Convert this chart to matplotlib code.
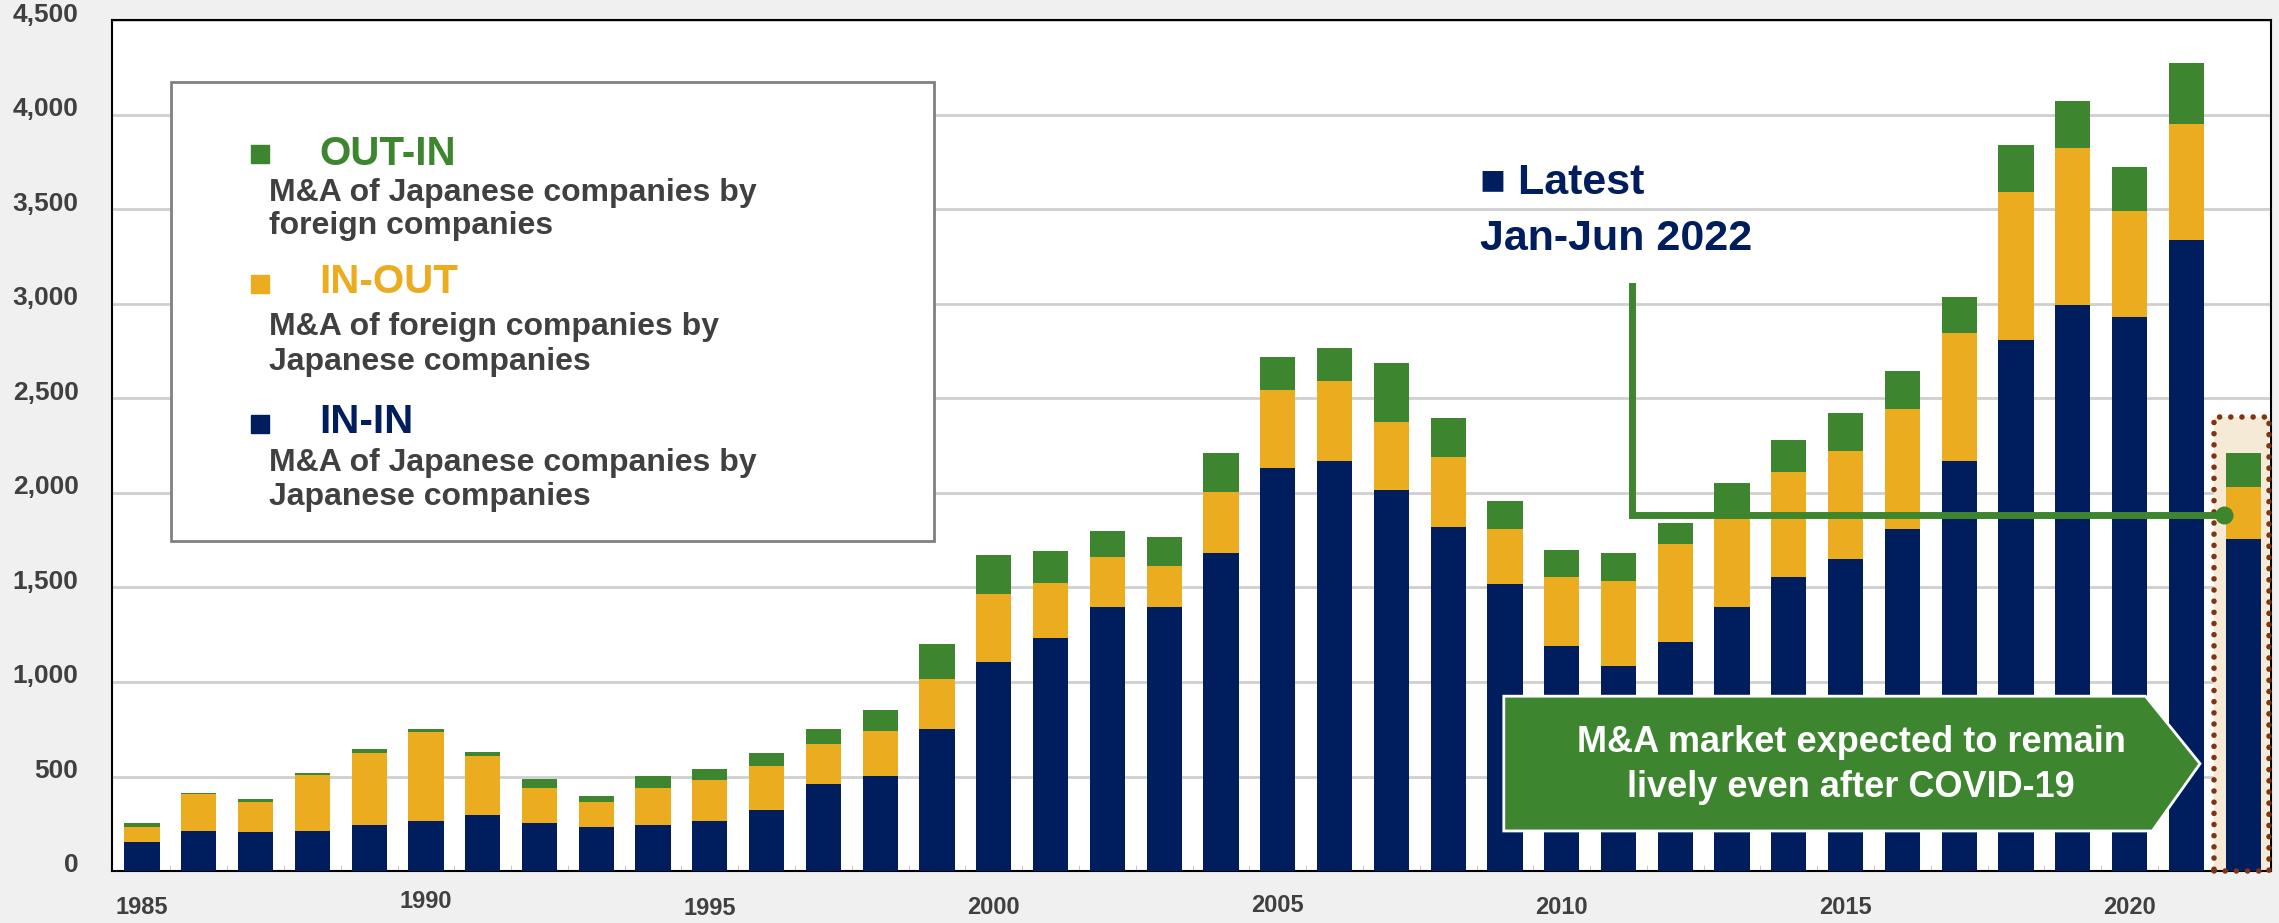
import matplotlib
matplotlib.use("Agg")
import matplotlib.pyplot as plt
import matplotlib.patches as mpatches
import matplotlib.transforms as mtransforms
import numpy as np

plt.rcParams['font.family'] = ['Liberation Sans', 'DejaVu Sans']
plt.rcParams['font.weight'] = 'bold'

# number of deals per year (1985 .. 2021, plus Jan-Jun 2022)
years = [str(y) for y in range(1985, 2022)] + ["2022H1"]
in_in = [156, 212, 205, 212, 243, 265, 299, 252, 233, 243, 265, 321, 458, 504, 753,
         1105, 1233, 1398, 1398, 1681, 2130, 2170, 2017, 1818, 1516, 1192, 1083, 1211,
         1398, 1554, 1650, 1809, 2170, 2808, 2992, 2933, 3337, 1756]
in_out = [77, 193, 159, 295, 383, 470, 308, 187, 131, 196, 214, 236, 214, 237, 265,
          361, 293, 265, 215, 324, 414, 420, 358, 374, 293, 362, 452, 520,
          482, 557, 570, 635, 676, 782, 834, 560, 614, 274]
out_in = [19, 9, 19, 10, 18, 18, 25, 50, 34, 65, 60, 69, 81, 109, 184,
          206, 165, 137, 155, 205, 177, 178, 315, 202, 146, 146, 146, 109,
          173, 168, 202, 202, 193, 252, 249, 231, 324, 180]

tick_years = ["1985", "1990", "1995", "2000", "2005", "2010", "2015", "2020"]
y_ticks = [0, 500, 1000, 1500, 2000, 2500, 3000, 3500, 4000, 4500]

NAVY = "#001D5E"
GOLD = "#ECAC20"
GREEN = "#3D862F"
GREY_TXT = "#404040"

fig = plt.figure(figsize=(22.79, 9.23), dpi=100, facecolor="#F0F0F0")
ax = fig.add_axes([0.0491, 0.0563, 0.9474, 0.9216])
ax.set_facecolor("white")

x = np.arange(len(years))
in_in = np.array(in_in)
in_out = np.array(in_out)
out_in = np.array(out_in)
w = 0.62
ax.bar(x, in_in, w, color=NAVY, zorder=3)
ax.bar(x, in_out, w, bottom=in_in, color=GOLD, zorder=3)
ax.bar(x, out_in, w, bottom=in_in + in_out, color=GREEN, zorder=3)

ax.set_xlim(-0.53, len(years) - 0.51)
ax.set_ylim(0, 4500)

# grid + spines
ax.set_yticks(y_ticks)
ax.set_yticklabels([f"{v:,}" for v in y_ticks])
ax.yaxis.grid(True, color="#CFCFCF", lw=2, zorder=0)
ax.set_axisbelow(True)
ax.tick_params(axis='y', length=0, pad=24, labelsize=19, labelcolor=GREY_TXT)
offset = mtransforms.ScaledTranslation(0, 6 / 72, fig.dpi_scale_trans)
for lbl in ax.get_yticklabels():
    lbl.set_transform(lbl.get_transform() + offset)
    lbl.set_fontweight('bold')
ax.set_xticks(x[:-1] + 0.5, minor=True)
ax.set_xticks([])
ax.tick_params(axis='x', which='minor', length=4, color="#BBBBBB", direction='in')
for s in ax.spines.values():
    s.set_color("black")
    s.set_linewidth(1.5)

# staggered year labels
drops = [26, 22, 27, 26, 25, 26, 26, 26]
for k, (lab, d) in enumerate(zip(tick_years, drops)):
    ax.annotate(lab, xy=(k * 5, 0), xycoords=('data', 'axes fraction'),
                xytext=(0, -d), textcoords='offset points', ha='center', va='center',
                fontsize=17, color=GREY_TXT, fontweight='bold', annotation_clip=False)

# highlight box for latest half-year
hl = mpatches.Rectangle((36.48, 0), 0.98, 2403, facecolor="#F4EAD6", edgecolor="none",
                        zorder=1.5)
ax.add_patch(hl)
hl_edge = mpatches.Rectangle((36.48, 0), 0.98, 2403, facecolor="none", edgecolor="#7E3514",
                             lw=4, linestyle=(0, (0.01, 2.0)), capstyle='round', zorder=6,
                             clip_on=False)
ax.add_patch(hl_edge)

# legend box
tr = ax.transAxes
box = mpatches.Rectangle((0.0273, 0.388), 0.3534, 0.5396, transform=tr, facecolor="white",
                         edgecolor="#808080", lw=2, zorder=4)
ax.add_patch(box)
legend_items = [
    ("OUT-IN", GREEN, 0.843, 0.8302, ["M&A of Japanese companies by", "foreign companies"], [0.7877, 0.7488]),
    ("IN-OUT", GOLD, 0.6905, 0.6795, ["M&A of foreign companies by", "Japanese companies"], [0.6296, 0.5894]),
    ("IN-IN", NAVY, 0.5258, 0.5154, ["M&A of Japanese companies by", "Japanese companies"], [0.4704, 0.4303]),
]
for name, col, sq_y, t_y, lines, l_ys in legend_items:
    ax.plot([0.0688], [sq_y], marker='s', ms=13.5, color=col, transform=tr, zorder=5,
            clip_on=False)
    ax.text(0.0959, t_y, name, transform=tr, color=col, fontsize=29, fontweight='bold',
            va='baseline', zorder=5)
    for ln, ly in zip(lines, l_ys):
        ax.text(0.0727, ly, ln, transform=tr, color=GREY_TXT, fontsize=23,
                fontweight='bold', va='baseline', zorder=5)

# latest label
ax.text(0.6336, 0.796, "■ Latest", transform=tr, color=NAVY, fontsize=31,
        fontweight='bold', va='baseline', zorder=5)
ax.text(0.6336, 0.730, "Jan-Jun 2022", transform=tr, color=NAVY, fontsize=31,
        fontweight='bold', va='baseline', zorder=5)

# bracket line pointing to 2022 bar
ax.plot([26.24, 26.24, 36.67], [3095, 1885, 1885], color=GREEN, lw=5, zorder=6,
        solid_joinstyle='miter')
ax.plot([36.67], [1885], marker='o', ms=12, color=GREEN, zorder=6)

# callout arrow
callout = mpatches.Polygon([(23.98, 925), (35.28, 925), (36.24, 568), (35.4, 212), (23.98, 212)],
                           closed=True, facecolor=GREEN, edgecolor="white", lw=2, zorder=7)
ax.add_patch(callout)
ax.text(30.1, 679, "M&A market expected to remain", ha='center', va='center', color="white",
        fontsize=26, fontweight='bold', zorder=8)
ax.text(30.1, 442, "lively even after COVID-19", ha='center', va='center', color="white",
        fontsize=26, fontweight='bold', zorder=8)

fig.savefig("out.png", dpi=100, facecolor=fig.get_facecolor())
